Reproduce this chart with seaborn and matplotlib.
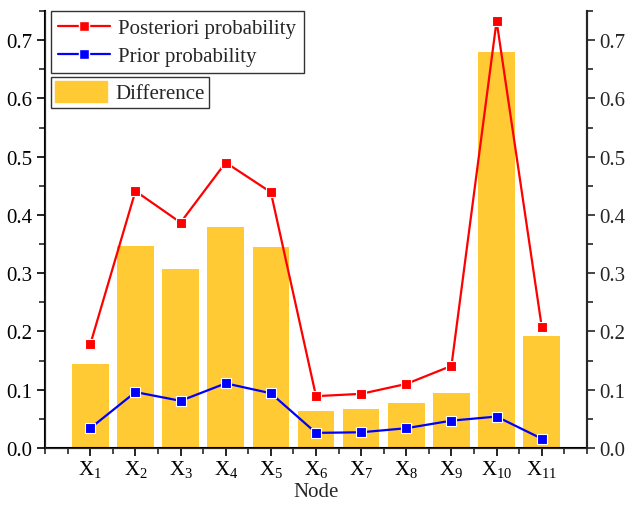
import numpy as np
import seaborn as sns
import pandas as pd
import matplotlib.pyplot as plt
from matplotlib.lines import Line2D
from matplotlib.patches import Patch
from matplotlib.ticker import MultipleLocator

# values
nodes = ['X$_{%d}$' % i for i in range(1, 12)]
posterior = [0.178, 0.441, 0.387, 0.490, 0.439, 0.089, 0.093, 0.110, 0.141, 0.733, 0.208]
prior = [0.034, 0.096, 0.081, 0.111, 0.094, 0.026, 0.027, 0.034, 0.047, 0.054, 0.016]
difference = [0.145, 0.346, 0.307, 0.379, 0.345, 0.063, 0.067, 0.077, 0.094, 0.680, 0.192]

sns.set_style('ticks')
plt.rcParams['font.family'] = ['Liberation Serif', 'DejaVu Serif']
plt.rcParams['mathtext.default'] = 'regular'
fs = 15

df = pd.DataFrame({'Node': nodes, 'Posterior': posterior, 'Prior': prior, 'Difference': difference})
df['pos'] = np.arange(len(nodes))

bar_color = '#FFCA33'

fig = plt.figure(figsize=(6.27, 5.06), dpi=100)
ax = fig.add_axes([0.072, 0.1126, 0.864, 0.8636])

sns.barplot(data=df, x='Node', y='Difference', color=bar_color, width=0.81,
            saturation=1, linewidth=0, ax=ax, zorder=1)
sns.lineplot(data=df, x='pos', y='Posterior', color='red', marker='s', markersize=7.5,
             markeredgecolor='white', markeredgewidth=0.8, linewidth=1.6, ax=ax, zorder=3)
sns.lineplot(data=df, x='pos', y='Prior', color='blue', marker='s', markersize=7.5,
             markeredgecolor='white', markeredgewidth=0.8, linewidth=1.6, ax=ax, zorder=3)

ax.set_xlim(-1, 11)
ax.set_ylim(0, 0.75)
ax.set_xticks(df['pos'])
ax.set_xticklabels(nodes)
ax.xaxis.set_minor_locator(MultipleLocator(0.5))
ax.yaxis.set_major_locator(MultipleLocator(0.1))
ax.yaxis.set_minor_locator(MultipleLocator(0.05))
ax.set_xlabel('Node', fontsize=fs, labelpad=2)
ax.set_ylabel('')
ax.yaxis.set_major_formatter(plt.FuncFormatter(lambda v, p: f'{v:.1f}'))

for side in ['left', 'bottom', 'right']:
    ax.spines[side].set_linewidth(1.5)
    ax.spines[side].set_color('black')
ax.spines['top'].set_visible(False)
ax.tick_params(which='major', direction='out', length=6, width=1.2, labelsize=fs, colors='black', pad=3)
ax.tick_params(axis='x', which='major', pad=1.5)
ax.tick_params(which='minor', direction='out', length=4, width=1.2)

ax2 = ax.twinx()
ax2.set_ylim(0, 0.75)
ax2.yaxis.set_major_locator(MultipleLocator(0.1))
ax2.yaxis.set_minor_locator(MultipleLocator(0.05))
ax2.yaxis.set_major_formatter(plt.FuncFormatter(lambda v, p: f'{v:.1f}'))
ax2.spines['top'].set_visible(False)
ax2.spines['right'].set_linewidth(1.5)
ax2.tick_params(which='major', direction='out', length=6, width=1.2, labelsize=fs, pad=3)
ax2.tick_params(which='minor', direction='out', length=4, width=1.2)

line_handles = [
    Line2D([], [], color='red', marker='s', markersize=7.5, markeredgecolor='white', lw=1.6),
    Line2D([], [], color='blue', marker='s', markersize=7.5, markeredgecolor='white', lw=1.6),
]
leg1 = ax2.legend(line_handles, ['Posteriori probability', 'Prior probability'],
                  loc='upper left', bbox_to_anchor=(0.01, 1.0), fontsize=fs,
                  frameon=True, fancybox=False, edgecolor='black', borderpad=0.35,
                  handlelength=2.5, handletextpad=0.4, labelspacing=0.4, borderaxespad=0)
leg1.get_frame().set_linewidth(1)
ax2.add_artist(leg1)
leg2 = ax2.legend([Patch(color=bar_color)], ['Difference'],
                  loc='upper left', bbox_to_anchor=(0.01, 0.85), fontsize=fs,
                  frameon=True, fancybox=False, edgecolor='black', borderpad=0.2,
                  handlelength=2.5, handleheight=1.2, handletextpad=0.4, borderaxespad=0)
leg2.get_frame().set_linewidth(1)

fig.savefig('out.png', dpi=100)
